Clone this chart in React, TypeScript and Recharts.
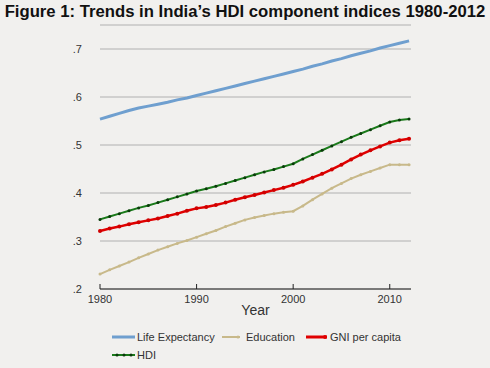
import React from 'react';
import { LineChart, Line, XAxis, YAxis, CartesianGrid, Legend, Label } from 'recharts';

const years = [
    1980, 1981, 1982, 1983, 1984, 1985, 1986, 1987, 1988, 1989, 1990, 1991, 1992, 1993, 1994, 1995, 1996,
    1997, 1998, 1999, 2000, 2001, 2002, 2003, 2004, 2005, 2006, 2007, 2008, 2009, 2010, 2011, 2012,
];
const lifeExpectancy = [
    0.554, 0.56, 0.566, 0.572, 0.577, 0.581, 0.585, 0.589, 0.594, 0.598, 0.603, 0.608, 0.613, 0.618, 0.623,
    0.628, 0.633, 0.638, 0.643, 0.648, 0.653, 0.658, 0.664, 0.669, 0.675, 0.68, 0.686, 0.691, 0.696, 0.702,
    0.707, 0.712, 0.717,
];
const education = [
    0.231, 0.24, 0.248, 0.256, 0.265, 0.273, 0.281, 0.288, 0.295, 0.301, 0.308, 0.315, 0.322, 0.33, 0.337,
    0.344, 0.349, 0.353, 0.357, 0.36, 0.362, 0.373, 0.386, 0.398, 0.41, 0.42, 0.43, 0.438, 0.445, 0.452,
    0.459, 0.459, 0.459,
];
const gniPerCapita = [
    0.321, 0.326, 0.33, 0.335, 0.339, 0.343, 0.347, 0.352, 0.357, 0.363, 0.368, 0.371, 0.375, 0.38, 0.386,
    0.391, 0.396, 0.401, 0.406, 0.411, 0.417, 0.424, 0.432, 0.44, 0.449, 0.459, 0.47, 0.48, 0.489, 0.497,
    0.505, 0.51, 0.513,
];
const hdi = [
    0.345, 0.351, 0.357, 0.363, 0.369, 0.374, 0.38, 0.386, 0.392, 0.398, 0.404, 0.409, 0.414, 0.42, 0.426,
    0.432, 0.438, 0.444, 0.449, 0.455, 0.461, 0.471, 0.48, 0.489, 0.498, 0.507, 0.516, 0.524, 0.532, 0.54,
    0.548, 0.552, 0.554,
];
const xTicks = [1980, 1990, 2000, 2010];
const yTicks = [0.2, 0.3, 0.4, 0.5, 0.6, 0.7];

const data = years.map((year, i) => ({
    year,
    life: lifeExpectancy[i],
    edu: education[i],
    gni: gniPerCapita[i],
    hdi: hdi[i],
}));

const FONT = '"Liberation Sans", Arial, sans-serif';
const BG = '#f1f0ee';

const XTick = (props: any) => {
    const { x, y, payload } = props;
    return (
        <g>
            <line x1={x} x2={x} y1={y - 5} y2={y} stroke="#222" strokeWidth={1} />
            <text x={x} y={y + 14} textAnchor="middle" fontSize={11} fill="#333" fontFamily={FONT}>
                {payload.value}
            </text>
        </g>
    );
};

const LegendContent = () => (
    <svg width={490} height={40}>
        <g fontFamily={FONT} fontSize={11} fill="#333">
            <line x1={112} x2={135} y1={12} y2={12} stroke="#6f9fcf" strokeWidth={3} />
            <text x={137} y={16}>Life Expectancy</text>
            <line x1={222} x2={240} y1={12} y2={12} stroke="#c8b98a" strokeWidth={2} />
            <circle cx={238} cy={12} r={1.5} fill="#c8b98a" />
            <text x={246} y={16}>Education</text>
            <line x1={306} x2={327} y1={12} y2={12} stroke="#e00000" strokeWidth={3} />
            <circle cx={325} cy={12} r={2} fill="#e00000" />
            <text x={330} y={16}>GNI per capita</text>
            <line x1={112} x2={135} y1={30} y2={30} stroke="#1a7a1a" strokeWidth={2} />
            <circle cx={117} cy={30} r={1.5} fill="#0a3a0a" />
            <circle cx={124} cy={30} r={1.5} fill="#0a3a0a" />
            <circle cx={131} cy={30} r={1.5} fill="#0a3a0a" />
            <text x={137} y={34}>HDI</text>
        </g>
    </svg>
);

export default function App() {
    return (
        <div style={{ position: 'absolute', left: 0, top: 0, width: 490, height: 368, background: BG }}>
            <div
                style={{
                    position: 'absolute',
                    left: 0,
                    top: 2,
                    width: 490,
                    textAlign: 'center',
                    fontFamily: FONT,
                    fontWeight: 'bold',
                    fontSize: 16.7,
                    color: '#111',
                }}
            >
                Figure 1: Trends in India’s HDI component indices 1980-2012
            </div>
            <LineChart
                width={490}
                height={368}
                data={data}
                margin={{ top: 25, right: 79, bottom: 9, left: 0 }}
            >
                <CartesianGrid vertical={false} stroke="#b0b0b0" />
                <XAxis
                    dataKey="year"
                    type="number"
                    domain={[1980, 2012.2]}
                    ticks={xTicks}
                    height={30}
                    stroke="#222"
                    tickLine={false}
                    tickSize={0}
                    tickMargin={0}
                    tick={<XTick />}
                >
                    <Label value="Year" position="insideBottom" offset={4} fontSize={14} fill="#333" fontFamily={FONT} />
                </XAxis>
                <YAxis
                    type="number"
                    domain={[0.2, 0.75]}
                    ticks={yTicks}
                    allowDataOverflow
                    width={100}
                    axisLine={false}
                    tickLine={false}
                    tickMargin={12}
                    tick={{ fontSize: 11, fill: '#333', fontFamily: FONT }}
                    tickFormatter={(v: number) => v.toFixed(1).replace('0.', '.')}
                />
                <Legend
                    verticalAlign="bottom"
                    content={<LegendContent />}
                    wrapperStyle={{ top: 325, left: 0, width: 490, height: 40 }}
                />
                <Line
                    dataKey="life"
                    stroke="#6f9fcf"
                    strokeWidth={3}
                    dot={false}
                    isAnimationActive={false}
                />
                <Line
                    dataKey="edu"
                    stroke="#c8b98a"
                    strokeWidth={2}
                    dot={{ r: 1.5, fill: '#c8b98a', stroke: 'none' }}
                    isAnimationActive={false}
                />
                <Line
                    dataKey="gni"
                    stroke="#e00000"
                    strokeWidth={2.5}
                    dot={{ r: 2, fill: '#d00000', stroke: 'none' }}
                    isAnimationActive={false}
                />
                <Line
                    dataKey="hdi"
                    stroke="#1a7a1a"
                    strokeWidth={2}
                    dot={{ r: 1.5, fill: '#0a3a0a', stroke: 'none' }}
                    isAnimationActive={false}
                />
            </LineChart>
        </div>
    );
}
